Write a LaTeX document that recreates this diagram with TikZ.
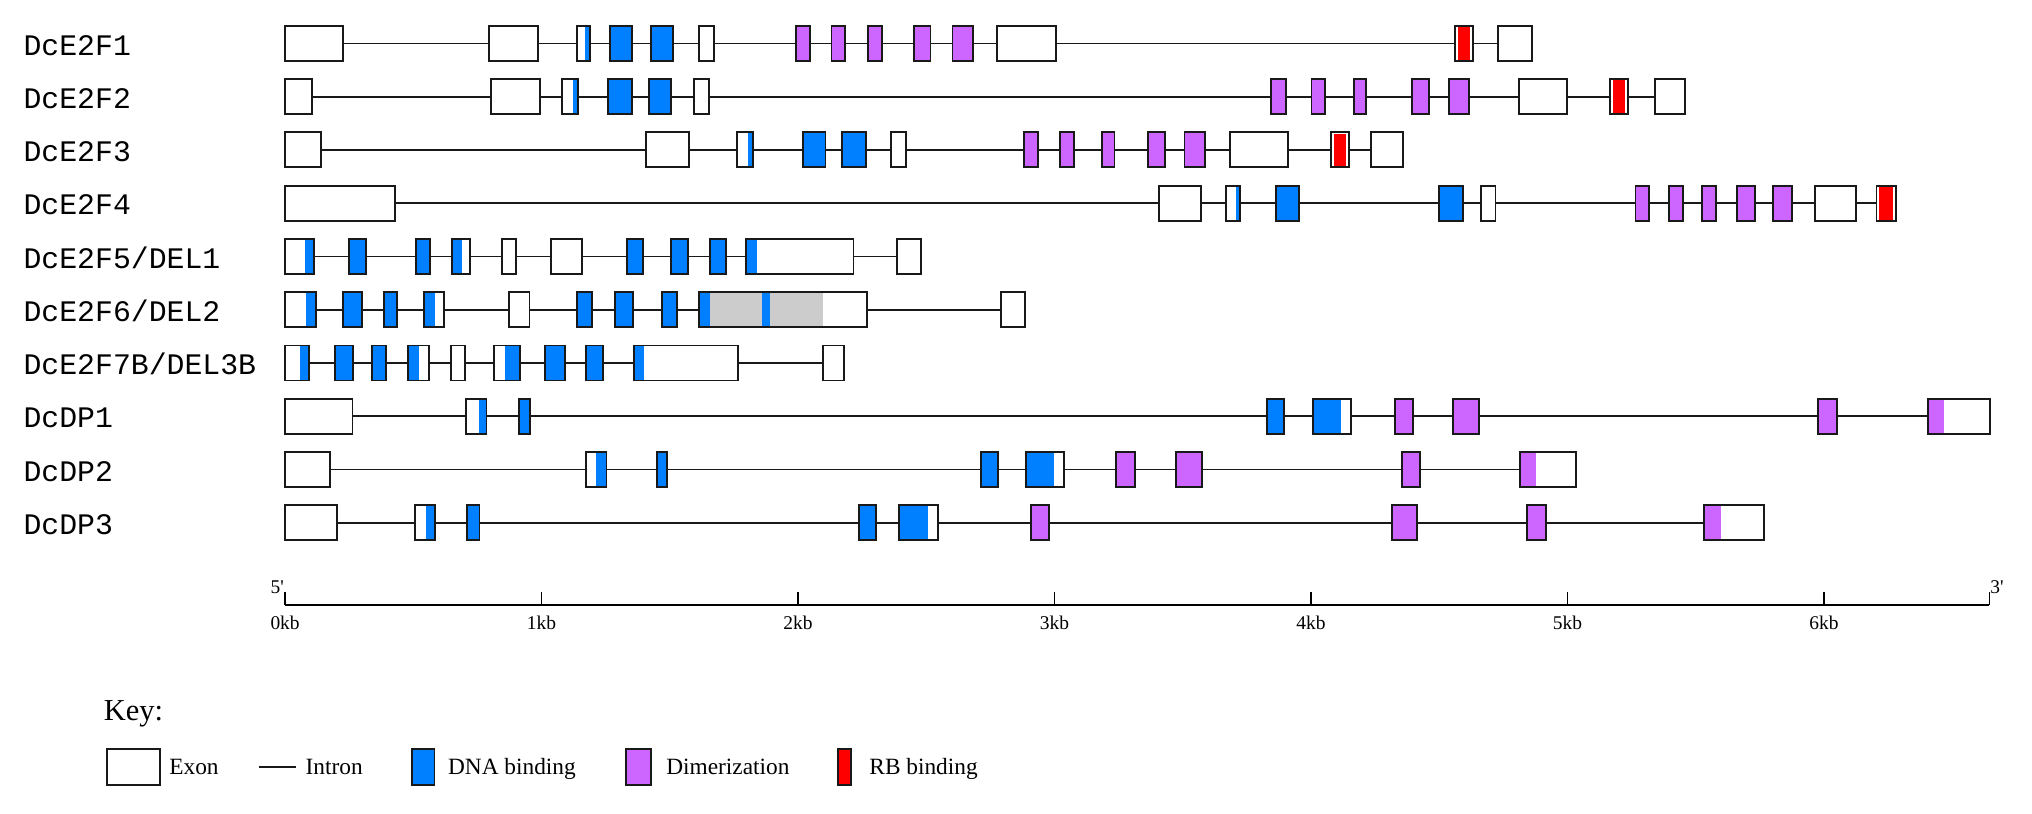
\documentclass[tikz,border=0pt]{standalone}
\usepackage{fontspec}
\setmainfont{Liberation Serif}
\newfontfamily\plainserif{Liberation Serif}
\newfontfamily\monof{Liberation Mono}
\definecolor{dnab}{RGB}{0,128,255}
\definecolor{dimp}{RGB}{204,102,255}
\definecolor{rbr}{RGB}{255,0,0}
\definecolor{gry}{RGB}{204,204,204}
\tikzset{
  exonb/.style={draw=black!90,line width=1.5pt},
  intr/.style={draw=black!90,line width=1.4pt},
  glabel/.style={font=\monof\fontsize{23}{23}\selectfont,inner sep=0pt,anchor=base west},
  ticklab/.style={font=\fontsize{15}{15}\selectfont,inner sep=0pt,anchor=base},
  keylab/.style={font=\fontsize{18}{18}\selectfont,inner sep=0pt,anchor=base west},
}
\newcommand\GW[3]{\draw[exonb,fill=white] (#2,#1-13.5) rectangle (#3,#1+13.5);}
\newcommand\GF[4]{\draw[exonb,fill=#4] (#2,#1-13.5) rectangle (#3,#1+13.5);}
\newcommand\GD[6]{\fill[white] (#2,#1-13.5) rectangle (#3,#1+13.5);
  \fill[#6] (#4,#1-13.5) rectangle (#5,#1+13.5);
  \draw[exonb] (#2,#1-13.5) rectangle (#3,#1+13.5);}
\newcommand\GR[3]{\fill[white] (#2,#1-13.5) rectangle (#3,#1+13.5);
  \fill[rbr] (#2+2,#1-12.6) rectangle (#3-2,#1+12.6);
  \draw[exonb] (#2,#1-13.5) rectangle (#3,#1+13.5);}
\begin{document}
\begin{tikzpicture}[x=1pt,y=-1pt]
\useasboundingbox[fill=white] (0,0) rectangle (1568,628);
% gene labels
\node[glabel] (l1) at (18,33.5+9) {DcE2F1};
\node[glabel] (l2) at (18,74.6+9) {DcE2F2};
\node[glabel] (l3) at (18,115.7+9) {DcE2F3};
\node[glabel] (l4) at (18,156.8+9) {DcE2F4};
\node[glabel] (l5) at (18,197.9+9) {DcE2F5/DEL1};
\node[glabel] (l6) at (18,239+9) {DcE2F6/DEL2};
\node[glabel] (l7) at (18,280.1+9) {DcE2F7B/DEL3B};
\node[glabel] (l8) at (18,321.2+9) {DcDP1};
\node[glabel] (l9) at (18,362.3+9) {DcDP2};
\node[glabel] (l10) at (18,403.4+9) {DcDP3};
% introns
\draw[intr] (220,33.5) -- (1182.4,33.5);
\draw[intr] (220,74.6) -- (1300,74.6);
\draw[intr] (220,115.7) -- (1082.4,115.7);
\draw[intr] (220,156.8) -- (1463,156.8);
\draw[intr] (220,197.9) -- (710.5,197.9);
\draw[intr] (220,239) -- (791,239);
\draw[intr] (220,280.1) -- (651.6,280.1);
\draw[intr] (220,321.2) -- (1535.6,321.2);
\draw[intr] (220,362.3) -- (1216,362.3);
\draw[intr] (220,403.4) -- (1361,403.4);
% row 1
\GW{33.5}{220}{265}
\GW{33.5}{377}{415}
\GD{33.5}{445}{455}{451.5}{455}{dnab}
\GF{33.5}{470.5}{488}{dnab}
\GF{33.5}{502}{519}{dnab}
\GW{33.5}{539.5}{551}
\GF{33.5}{614}{625}{dimp}
\GF{33.5}{641.6}{652}{dimp}
\GF{33.5}{670}{680.7}{dimp}
\GF{33.5}{705}{718}{dimp}
\GF{33.5}{735}{750.6}{dimp}
\GW{33.5}{769.6}{815}
\GR{33.5}{1122.8}{1136.7}
\GW{33.5}{1156}{1182.4}
% row 2
\GW{74.6}{220}{240.8}
\GW{74.6}{379}{417}
\GD{74.6}{434}{446}{442.5}{446}{dnab}
\GF{74.6}{469}{488}{dnab}
\GF{74.6}{500.6}{518}{dnab}
\GW{74.6}{535.4}{547}
\GF{74.6}{981}{992}{dimp}
\GF{74.6}{1012}{1022.5}{dimp}
\GF{74.6}{1044.7}{1054.4}{dimp}
\GF{74.6}{1089.7}{1103}{dimp}
\GF{74.6}{1118}{1133.7}{dimp}
\GW{74.6}{1171.8}{1209.5}
\GR{74.6}{1242.6}{1256}
\GW{74.6}{1277}{1300}
% row 3
\GW{115.7}{220}{247.4}
\GW{115.7}{498.6}{532}
\GD{115.7}{568.6}{580.7}{577}{580.7}{dnab}
\GF{115.7}{619.5}{637}{dnab}
\GF{115.7}{650}{668}{dnab}
\GW{115.7}{687.6}{699}
\GF{115.7}{790}{800.8}{dimp}
\GF{115.7}{818}{828.8}{dimp}
\GF{115.7}{850}{860}{dimp}
\GF{115.7}{886}{899}{dimp}
\GF{115.7}{914}{930}{dimp}
\GW{115.7}{949}{994}
\GR{115.7}{1027}{1041}
\GW{115.7}{1058}{1082.4}
% row 4
\GW{156.8}{220}{305}
\GW{156.8}{894}{927}
\GD{156.8}{946}{957}{953.7}{957}{dnab}
\GF{156.8}{984.5}{1002}{dnab}
\GF{156.8}{1110.6}{1128.8}{dnab}
\GW{156.8}{1143}{1154}
\GF{156.8}{1262}{1272.8}{dimp}
\GF{156.8}{1288}{1299}{dimp}
\GF{156.8}{1313.5}{1324}{dimp}
\GF{156.8}{1340}{1354}{dimp}
\GF{156.8}{1368}{1383}{dimp}
\GW{156.8}{1400.5}{1432}
\GR{156.8}{1448}{1463}
% row 5
\GD{197.9}{220}{242}{235}{242}{dnab}
\GF{197.9}{269}{282.7}{dnab}
\GF{197.9}{321}{332}{dnab}
\GD{197.9}{348.8}{363}{348.8}{356.4}{dnab}
\GW{197.9}{387.5}{398}
\GW{197.9}{425}{449}
\GF{197.9}{483.7}{496.5}{dnab}
\GF{197.9}{518}{531}{dnab}
\GF{197.9}{548}{560}{dnab}
\GD{197.9}{576}{658.6}{576}{584}{dnab}
\GW{197.9}{692}{710.5}
% row 6
\GD{239}{220}{244}{236.3}{244}{dnab}
\GF{239}{265}{279}{dnab}
\GF{239}{296}{306.6}{dnab}
\GD{239}{327}{342.5}{327}{335.6}{dnab}
\GW{239}{393}{408.6}
\GF{239}{445}{457}{dnab}
\GF{239}{474.7}{488.5}{dnab}
\GF{239}{510.7}{522.5}{dnab}
\fill[white] (539.5,239-13.5) rectangle (669,239+13.5);
\fill[gry] (548,239-13.5) rectangle (634.7,239+13.5);
\fill[dnab] (539.5,239-13.5) rectangle (548,239+13.5);
\fill[dnab] (588,239-13.5) rectangle (594,239+13.5);
\draw[exonb] (539.5,239-13.5) rectangle (669,239+13.5);
\GW{239}{772.7}{791}
% row 7
\GD{280.1}{220}{238.7}{231.5}{238.7}{dnab}
\GF{280.1}{258.8}{272.6}{dnab}
\GF{280.1}{287}{298}{dnab}
\GD{280.1}{315}{330.8}{315}{323.5}{dnab}
\GW{280.1}{348}{359}
\GD{280.1}{381}{401}{390}{401}{dnab}
\GF{280.1}{420.7}{436}{dnab}
\GF{280.1}{452}{465}{dnab}
\GD{280.1}{489}{569.3}{489}{497}{dnab}
\GW{280.1}{634.7}{651.6}
% row 8
\GW{321.2}{220}{272}
\GD{321.2}{359.8}{375.4}{369.5}{375.4}{dnab}
\GF{321.2}{400.7}{409}{dnab}
\GF{321.2}{978}{991}{dnab}
\GD{321.2}{1013}{1042.6}{1013}{1035}{dnab}
\GF{321.2}{1076.5}{1090.4}{dimp}
\GF{321.2}{1121}{1141}{dimp}
\GF{321.2}{1403}{1417.4}{dimp}
\GD{321.2}{1488}{1535.6}{1488}{1500}{dimp}
% row 9
\GW{362.3}{220}{255}
\GD{362.3}{452}{468}{460}{468}{dnab}
\GF{362.3}{507}{515}{dnab}
\GF{362.3}{757}{770}{dnab}
\GD{362.3}{792}{821}{792}{813}{dnab}
\GF{362.3}{861}{875.6}{dimp}
\GF{362.3}{907.6}{927.5}{dimp}
\GF{362.3}{1082}{1096}{dimp}
\GD{362.3}{1173}{1216}{1173}{1185}{dimp}
% row 10
\GW{403.4}{220}{260}
\GD{403.4}{320}{335.8}{328.7}{335.8}{dnab}
\GF{403.4}{360.7}{370}{dnab}
\GF{403.4}{663}{676}{dnab}
\GD{403.4}{694}{723.6}{694}{716}{dnab}
\GF{403.4}{795.5}{809.5}{dimp}
\GF{403.4}{1074}{1093.6}{dimp}
\GF{403.4}{1178}{1192.6}{dimp}
\GD{403.4}{1315}{1361}{1315}{1328}{dimp}
% axis
\coordinate (a0) at (220,467);
\coordinate (a1) at (1535,467);
\draw[line width=1.1pt] (a0) -- (a1);
\foreach \k in {0,...,6}{
  \draw[line width=1.1pt] (220+197.9*\k,457) -- (220+197.9*\k,467);
  \node[ticklab] (t\k) at (220+197.9*\k,486) {\k kb};
}
\draw[line width=1.1pt] (1535,457) -- (a1);
\node[ticklab,font=\plainserif\fontsize{15}{15}\selectfont] (p5) at (214,458) {5'};
\node[ticklab,font=\plainserif\fontsize{15}{15}\selectfont] (p3) at (1541,458) {3'};
% key
\node[font=\fontsize{23.5}{23.5}\selectfont,inner sep=0pt,anchor=base west] (key) at (80,556) {Key:};
\draw[exonb,fill=white] (82.3,578) rectangle (123.5,606);
\node[keylab] (k1) at (130.5,598) {Exon};
\coordinate (i0) at (199.7,592);
\coordinate (i1) at (228.7,592);
\draw[intr] (i0) -- (i1);
\node[keylab] (k2) at (235.7,598) {Intron};
\draw[exonb,fill=dnab] (318,578) rectangle (335.3,606);
\node[keylab] (k3) at (345.6,598) {DNA binding};
\draw[exonb,fill=dimp] (482.7,578) rectangle (502.3,606);
\node[keylab] (k4) at (514,598) {Dimerization};
\draw[exonb,fill=rbr] (646.4,578) rectangle (656.7,606);
\node[keylab] (k5) at (670.7,598) {RB binding};
\end{tikzpicture}
\end{document}
